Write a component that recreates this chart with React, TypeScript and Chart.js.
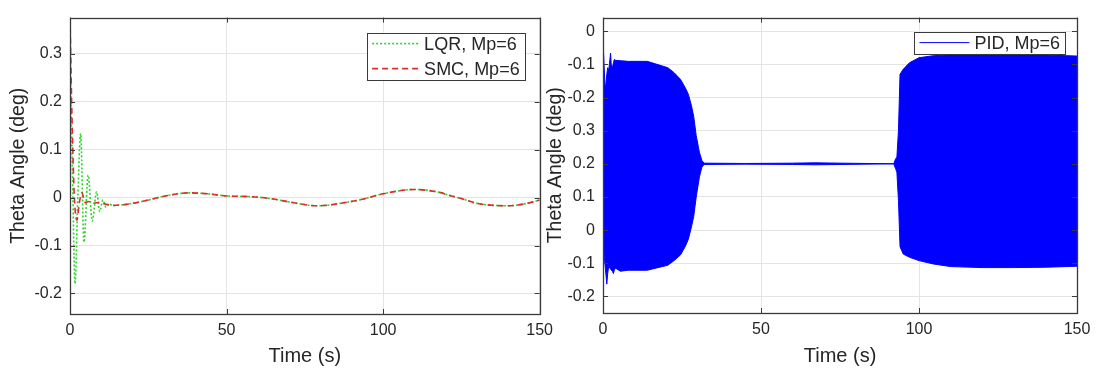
import React, { useEffect, useRef } from "react";
import { Chart, registerables } from "chart.js";

Chart.register(...registerables);

// ---------- data ----------
const X_TICKS = [0, 50, 100, 150];
const X_LABELS = ["0", "50", "100", "150"];

const LEFT_Y_TICKS = [-0.2, -0.1, 0, 0.1, 0.2, 0.3];
const LEFT_Y_LABELS = ["-0.2", "-0.1", "0", "0.1", "0.2", "0.3"];

// the right panel's axis labels as printed in the picture
const RIGHT_Y_TICKS = [-0.2, -0.1, 0, 0.1, 0.2, 0.3, 0.4, 0.5, 0.6];
const RIGHT_Y_LABELS = ["-0.2", "-0.1", "0", "0.1", "0.2", "0.3", "-0.2", "-0.1", "0"];

const LQR_T = [0, 0.8, 1.6, 2.5, 3.4, 4.45, 5.8, 7.1, 8.5, 9.5, 10.5, 11.5, 12.5, 13.5, 15, 18, 25, 30, 38, 44, 50, 58, 65, 70, 79, 89, 93, 100, 110, 118, 121, 125, 130, 140, 146, 150];
const LQR_V = [0.32, 0.05, -0.18, 0.0, 0.134, -0.093, 0.047, -0.049, 0.012, -0.029, -0.005, -0.02, -0.012, -0.017, -0.016, -0.014, -0.005, 0.003, 0.010, 0.008, 0.0035, 0.002, -0.003, -0.009, -0.017, -0.009, -0.004, 0.008, 0.017, 0.011, 0.005, -0.002, -0.012, -0.017, -0.012, -0.005];

const SMC_T = [0, 0.7, 1.4, 2.2, 3.0, 3.8, 4.8, 6, 7, 9, 11, 13.3, 18, 25, 30, 38, 44, 50, 58, 65, 70, 79, 89, 93, 100, 110, 118, 121, 125, 130, 140, 146, 150];
const SMC_V = [0.376, 0.15, 0.0, -0.047, -0.01, 0.01, -0.01, -0.008, -0.012, -0.01, -0.013, -0.016, -0.014, -0.005, 0.003, 0.010, 0.008, 0.0035, 0.002, -0.003, -0.009, -0.017, -0.009, -0.004, 0.008, 0.017, 0.011, 0.005, -0.002, -0.012, -0.017, -0.012, -0.005];

// PID: envelope of the dense oscillation (upper / lower), in the panel's axis units
const PID_T = [0, 0.1, 0.6, 0.8, 1.2, 1.5, 1.8, 2.4, 2.6, 3.0, 3.3, 3.6, 4, 5.5, 8, 14, 20.5, 22.5, 24.5, 26, 27, 28, 28.7, 29.5, 30.5, 31.3, 32, 45, 60, 67, 75, 92, 92.6, 93, 93.5, 94, 95, 97, 100, 104.5, 110, 120, 130, 140, 150];
const PID_UPPER = [0.45, 0.551, 0.44, 0.43, 0.47, 0.49, 0.48, 0.534, 0.5, 0.49, 0.505, 0.515, 0.512, 0.511, 0.509, 0.509, 0.49, 0.475, 0.455, 0.43, 0.41, 0.375, 0.343, 0.285, 0.235, 0.21, 0.202, 0.201, 0.202, 0.203, 0.202, 0.2, 0.215, 0.22, 0.3, 0.47, 0.485, 0.505, 0.52, 0.526, 0.529, 0.53, 0.53, 0.528, 0.525];
const PID_LOWER = [0.05, -0.05, -0.1, -0.12, -0.163, -0.13, -0.11, -0.118, -0.12, -0.125, -0.131, -0.12, -0.115, -0.124, -0.121, -0.121, -0.106, -0.092, -0.075, -0.05, -0.028, 0.01, 0.041, 0.1, 0.16, 0.19, 0.198, 0.199, 0.198, 0.197, 0.198, 0.2, 0.185, 0.175, 0.09, -0.05, -0.072, -0.082, -0.092, -0.102, -0.11, -0.113, -0.113, -0.112, -0.109];

// ---------- styles ----------
const FONT = "'Liberation Sans', Arial, Helvetica, sans-serif";
const TEXT = "#262626";
const GRID = "#e4e4e4";
const FRAME = "#3a3a3a";
const GREEN = "rgb(40,215,40)";
const RED = "rgb(222,45,45)";
const BLUE = "rgb(0,0,255)";

const pairs = (t: number[], v: number[]) => t.map((x, i) => ({ x, y: v[i] }));

const labelFor = (ticks: number[], labels: string[]) => (value: number) => {
  const i = ticks.findIndex((t) => Math.abs(t - value) < 1e-9);
  return i >= 0 ? labels[i] : "";
};

const matlabPlugin = {
  id: "matlabFrame",
  afterDraw(chart: any, _args: any, opts: any) {
    const { ctx, chartArea } = chart;
    const { left, right, top, bottom } = chartArea;
    const xs = chart.scales.x;
    const ys = chart.scales.y;
    ctx.save();
    ctx.strokeStyle = FRAME;
    ctx.lineWidth = 1;
    // inward tick marks
    ctx.beginPath();
    (opts.xTicks || []).forEach((v: number) => {
      const px = Math.round(xs.getPixelForValue(v)) + 0.5;
      ctx.moveTo(px, bottom);
      ctx.lineTo(px, bottom - 5);
      ctx.moveTo(px, top);
      ctx.lineTo(px, top + 5);
    });
    (opts.yTicks || []).forEach((v: number) => {
      const py = Math.round(ys.getPixelForValue(v)) + 0.5;
      ctx.moveTo(left, py);
      ctx.lineTo(left + 5, py);
      ctx.moveTo(right, py);
      ctx.lineTo(right - 5, py);
    });
    ctx.stroke();
    // box
    ctx.lineWidth = 1.3;
    ctx.strokeRect(Math.round(left) + 0.5, Math.round(top) + 0.5, Math.round(right - left), Math.round(bottom - top));

    // legend
    const items = chart.data.datasets.filter((d: any) => !d.noLegend);
    if (items.length) {
      ctx.font = `18px ${FONT}`;
      const tw = Math.max(...items.map((d: any) => ctx.measureText(d.label).width));
      const lineLen = opts.legendLine || 48;
      const w = 5 + lineLen + 5 + tw + 5;
      const h = 22 + (items.length - 1) * 25;
      const bx = right - opts.legendRight - w;
      const by = top + opts.legendTop;
      ctx.fillStyle = "#ffffff";
      ctx.fillRect(bx, by, w, h);
      ctx.strokeStyle = FRAME;
      ctx.lineWidth = 1;
      ctx.strokeRect(Math.round(bx) + 0.5, Math.round(by) + 0.5, Math.round(w), Math.round(h));
      items.forEach((d: any, i: number) => {
        const cy = by + 11 + i * 25;
        ctx.beginPath();
        ctx.strokeStyle = d.borderColor;
        ctx.lineWidth = d.borderWidth || 1;
        ctx.setLineDash(d.borderDash || []);
        ctx.moveTo(bx + 5, cy);
        ctx.lineTo(bx + 5 + lineLen, cy);
        ctx.stroke();
        ctx.setLineDash([]);
        ctx.fillStyle = TEXT;
        ctx.textBaseline = "middle";
        ctx.textAlign = "left";
        ctx.fillText(d.label, bx + 5 + lineLen + 5, cy + 1);
      });
    }
    ctx.restore();
  },
};

function makeOptions(cfg: {
  yMin: number;
  yMax: number;
  yTicks: number[];
  yLabels: string[];
  yWidth: number;
  xHeight: number;
  padRight: number;
  titlePad: number;
  legendRight: number;
  legendTop: number;
  legendLine: number;
}): any {
  return {
    responsive: false,
    animation: false,
    events: [],
    layout: { padding: { top: 9, right: cfg.padRight, left: 0, bottom: 0 } },
    elements: { point: { radius: 0 }, line: { borderCapStyle: "butt" } },
    plugins: {
      legend: { display: false },
      tooltip: { enabled: false },
      matlabFrame: {
        xTicks: X_TICKS,
        yTicks: cfg.yTicks,
        legendRight: cfg.legendRight,
        legendTop: cfg.legendTop,
        legendLine: cfg.legendLine,
      },
    },
    scales: {
      x: {
        type: "linear",
        min: 0,
        max: 150,
        afterBuildTicks: (s: any) => {
          s.ticks = X_TICKS.map((v) => ({ value: v }));
        },
        afterFit: (s: any) => {
          s.height = cfg.xHeight;
        },
        ticks: {
          callback: labelFor(X_TICKS, X_LABELS),
          font: { family: FONT, size: 16 },
          color: TEXT,
          padding: 7,
          maxRotation: 0,
          autoSkip: false,
        },
        grid: { color: GRID, drawTicks: false, lineWidth: 1 },
        border: { display: false },
        title: {
          display: true,
          text: "Time (s)",
          font: { family: FONT, size: 20 },
          color: TEXT,
          padding: { top: 0, bottom: 6 },
        },
      },
      y: {
        type: "linear",
        min: cfg.yMin,
        max: cfg.yMax,
        afterBuildTicks: (s: any) => {
          s.ticks = cfg.yTicks.map((v) => ({ value: v }));
        },
        afterFit: (s: any) => {
          s.width = cfg.yWidth;
        },
        ticks: {
          callback: labelFor(cfg.yTicks, cfg.yLabels),
          font: { family: FONT, size: 16 },
          color: TEXT,
          padding: 8,
          autoSkip: false,
        },
        grid: { color: GRID, drawTicks: false, lineWidth: 1 },
        border: { display: false },
        title: {
          display: true,
          text: "Theta Angle (deg)",
          font: { family: FONT, size: 19.5 },
          color: TEXT,
          padding: { top: cfg.titlePad, bottom: 0 },
        },
      },
    },
  };
}

function LeftChart() {
  const ref = useRef<HTMLCanvasElement | null>(null);
  useEffect(() => {
    if (!ref.current) return;
    const chart = new Chart(ref.current, {
      type: "line",
      data: {
        datasets: [
          {
            label: "LQR, Mp=6",
            data: pairs(LQR_T, LQR_V),
            borderColor: GREEN,
            borderWidth: 1.6,
            borderDash: [2, 2],
            cubicInterpolationMode: "monotone",
            fill: false,
            order: 1,
          } as any,
          {
            label: "SMC, Mp=6",
            data: pairs(SMC_T, SMC_V),
            borderColor: RED,
            borderWidth: 1.6,
            borderDash: [6, 4],
            cubicInterpolationMode: "monotone",
            fill: false,
            order: 0,
          } as any,
        ],
      },
      options: makeOptions({
        yMin: -0.243,
        yMax: 0.376,
        yTicks: LEFT_Y_TICKS,
        yLabels: LEFT_Y_LABELS,
        yWidth: 70,
        xHeight: 60,
        padRight: 18,
        titlePad: 7,
        legendRight: 15,
        legendTop: 15,
        legendLine: 47,
      }),
      plugins: [matlabPlugin],
    });
    return () => chart.destroy();
  }, []);
  return (
    <canvas
      ref={ref}
      width={560}
      height={374}
      style={{ position: "absolute", left: 0, top: 0, width: 560, height: 374 }}
    />
  );
}

function RightChart() {
  const ref = useRef<HTMLCanvasElement | null>(null);
  useEffect(() => {
    if (!ref.current) return;
    const chart = new Chart(ref.current, {
      type: "line",
      data: {
        datasets: [
          {
            label: "PID, Mp=6",
            data: pairs(PID_T, PID_UPPER),
            borderColor: BLUE,
            backgroundColor: BLUE,
            borderWidth: 1,
            fill: "+1",
          } as any,
          {
            label: "",
            noLegend: true,
            data: pairs(PID_T, PID_LOWER),
            borderColor: BLUE,
            borderWidth: 1,
            fill: false,
          } as any,
        ],
      },
      options: makeOptions({
        yMin: -0.25,
        yMax: 0.641,
        yTicks: RIGHT_Y_TICKS,
        yLabels: RIGHT_Y_LABELS,
        yWidth: 63,
        xHeight: 61,
        padRight: 21,
        titlePad: 4,
        legendRight: 12,
        legendTop: 14,
        legendLine: 50,
      }),
      plugins: [matlabPlugin],
    });
    return () => chart.destroy();
  }, []);
  return (
    <canvas
      ref={ref}
      width={558}
      height={374}
      style={{ position: "absolute", left: 540, top: 0, width: 558, height: 374 }}
    />
  );
}

export default function App() {
  return (
    <div
      style={{
        position: "absolute",
        left: 0,
        top: 0,
        width: 1098,
        height: 374,
        background: "#ffffff",
        overflow: "hidden",
      }}
    >
      <LeftChart />
      <RightChart />
    </div>
  );
}
